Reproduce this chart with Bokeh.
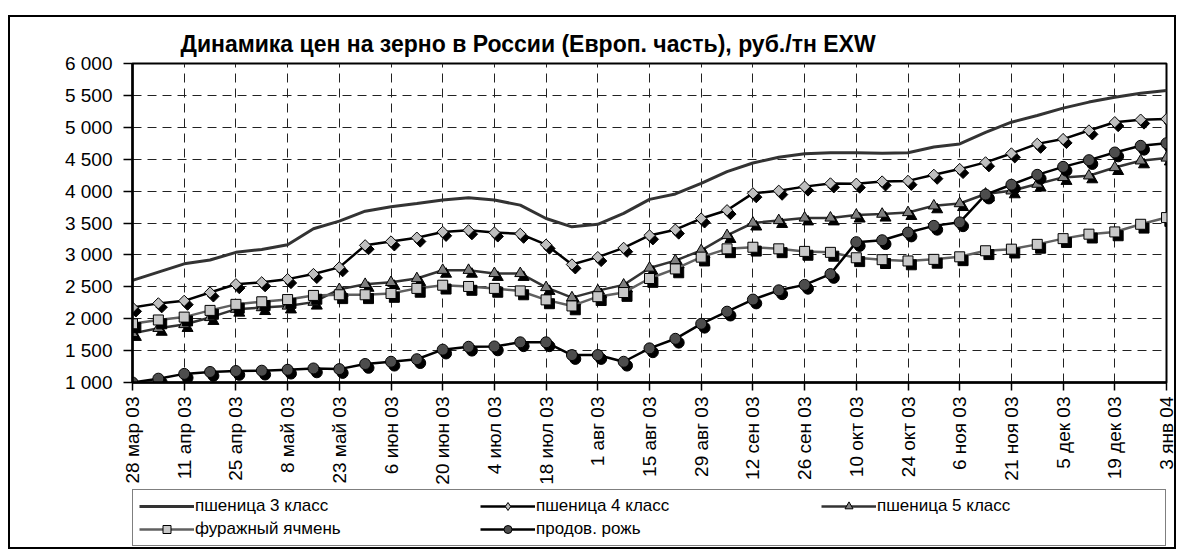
import math
from bokeh.plotting import figure
from bokeh.layouts import column
from bokeh.models import (Range1d, FixedTicker, ColumnDataSource, Legend, LegendItem)
from bokeh.transform import dodge
from bokeh.embed import file_html
from bokeh.resources import INLINE

title_text = "Динамика цен на зерно в России (Европ. часть), руб./тн EXW"

date_labels = ["28 мар 03", "11 апр 03", "25 апр 03", "8 май 03", "23 май 03",
               "6 июн 03", "20 июн 03", "4 июл 03", "18 июл 03", "1 авг 03",
               "15 авг 03", "29 авг 03", "12 сен 03", "26 сен 03", "10 окт 03",
               "24 окт 03", "6 ноя 03", "21 ноя 03", "5 дек 03", "19 дек 03",
               "3 янв 04"]

y_ticks = [1000, 1500, 2000, 2500, 3000, 3500, 4000, 4500, 5000, 5500, 6000]
y_tick_labels = ["1 000", "1 500", "2 000", "2 500", "3 000", "3 500",
                 "4 000", "4 500", "5 000", "5 500", "6 000"]

series_names = ["пшеница 3 класс", "пшеница 4 класс", "пшеница 5 класс",
                "фуражный ячмень", "продов. рожь"]

wheat3 = [2600, 2730, 2860, 2920, 3040, 3085, 3160, 3410, 3530, 3685,
          3755, 3805, 3860, 3895, 3860, 3780, 3570, 3440, 3480, 3650,
          3870, 3955, 4120, 4305, 4440, 4530, 4585, 4600, 4600, 4595,
          4600, 4690, 4740, 4920, 5080, 5185, 5300, 5395, 5470, 5535, 5575]

wheat4 = [2175, 2240, 2280, 2410, 2540, 2570, 2620, 2700, 2805, 3150,
          3210, 3270, 3360, 3385, 3350, 3330, 3160, 2850, 2965, 3110,
          3305, 3395, 3570, 3700, 3965, 4005, 4070, 4120, 4115, 4150,
          4160, 4255, 4345, 4450, 4590, 4740, 4815, 4950, 5080, 5120, 5130]

wheat5 = [1770, 1850, 1910, 2020, 2150, 2175, 2200, 2260, 2460, 2540,
          2570, 2630, 2760, 2760, 2710, 2710, 2490, 2330, 2440, 2530,
          2795, 2910, 3070, 3305, 3500, 3540, 3580, 3580, 3625, 3640,
          3665, 3770, 3805, 3955, 4005, 4110, 4215, 4240, 4370, 4475, 4520]

barley = [1920, 1980, 2025, 2130, 2225, 2265, 2300, 2365, 2375, 2375,
          2395, 2475, 2525, 2505, 2475, 2435, 2295, 2200, 2345, 2410,
          2630, 2780, 2965, 3095, 3120, 3095, 3055, 3040, 2955, 2925,
          2905, 2930, 2970, 3065, 3090, 3165, 3255, 3325, 3360, 3480, 3585]

rye = [1000, 1060, 1135, 1165, 1180, 1185, 1200, 1220, 1210, 1290,
       1325, 1365, 1515, 1560, 1565, 1630, 1630, 1430, 1430, 1325,
       1535, 1685, 1920, 2110, 2300, 2445, 2530, 2700, 3200, 3230,
       3350, 3455, 3510, 3945, 4100, 4255, 4380, 4485, 4605, 4710, 4750]

FONT = "Liberation Sans"

# series styles: (line colour, line width, marker, marker size, marker fill, angle, legend marker)
STYLES = [("#333333", 3.0, None, 0, None, 0.0, None),
          ("black", 2.5, "square", 8, "#bfbfbf", math.pi / 4, "diamond"),
          ("#333333", 2.5, "triangle", 11, "#808080", 0.0, "triangle"),
          ("#606060", 2.5, "square", 10, "#c8c8c8", 0.0, "square"),
          ("black", 2.5, "circle", 11, "#4d4d4d", 0.0, "circle")]

x = list(range(len(wheat3)))
cols = ["w3", "w4", "w5", "b", "r"]
src = ColumnDataSource(dict(x=x, w3=wheat3, w4=wheat4, w5=wheat5, b=barley, r=rye))

W = 1168
p = figure(width=W, height=472, output_backend="svg", toolbar_location=None,
           x_range=Range1d(0, len(x) - 1), y_range=Range1d(y_ticks[0], y_ticks[-1]),
           min_border_left=124, min_border_right=10, min_border_top=48,
           min_border_bottom=105)
p.background_fill_color = "white"
p.border_fill_alpha = 0
p.outline_line_color = "black"
p.outline_line_width = 2

# title
p.title.text = title_text
p.title.align = "left"
p.title.offset = 48
p.title.text_font = FONT
p.title.text_font_size = "23px"
p.title.text_font_style = "bold"
p.title.text_color = "black"
p.title.standoff = 13

# axes
p.xaxis.ticker = FixedTicker(ticks=list(range(0, len(x), 2)))
p.xaxis.major_label_overrides = {i * 2: lab for i, lab in enumerate(date_labels)}
p.xaxis.major_label_orientation = math.pi / 2
p.yaxis.ticker = FixedTicker(ticks=y_ticks)
p.yaxis.major_label_overrides = {t: l for t, l in zip(y_ticks, y_tick_labels)}
for ax in (p.xaxis, p.yaxis):
    ax.axis_line_color = "black"
    ax.axis_line_width = 2.5
    ax.major_tick_line_color = "black"
    ax.major_tick_line_width = 1.5
    ax.major_tick_in = 0
    ax.minor_tick_line_color = None
    ax.major_label_text_font = FONT
    ax.major_label_text_font_size = "19px"
    ax.major_label_text_color = "black"
p.yaxis.major_tick_out = 9
p.yaxis.major_label_standoff = 11
p.xaxis.major_tick_out = 8
p.xaxis.major_label_standoff = 6

p.grid.grid_line_color = "#222222"
p.grid.grid_line_dash = "9 6"
p.grid.grid_line_width = 1

SX, SY = 0.13, -60  # marker shadow offsets

for col, (lc, lw, mk, ms, mf, ang, lmk) in zip(cols, STYLES):
    p.line("x", col, source=src, line_color=lc, line_width=lw)
    if mk is not None:
        p.scatter(x=dodge("x", SX), y=dodge(col, SY), source=src, marker=mk,
                  angle=ang, size=ms, fill_color="black", line_color="black")
        p.scatter("x", col, source=src, marker=mk, angle=ang, size=ms,
                  fill_color=mf, line_color="black", line_width=1)

# legend strip below the chart; its renderers use the same data but fall
# outside this strip's ranges, so only their legend glyphs are visible
p2 = figure(width=W, height=62, output_backend="svg", toolbar_location=None,
            x_range=Range1d(0, 1), y_range=Range1d(0, 1),
            x_axis_location=None, y_axis_location=None,
            min_border_left=0, min_border_right=0, min_border_top=0,
            min_border_bottom=0)
p2.grid.visible = False
p2.outline_line_color = None
p2.background_fill_alpha = 0
p2.border_fill_alpha = 0

items = []
for name, col, (lc, lw, mk, ms, mf, ang, lmk) in zip(series_names, cols, STYLES):
    rs = [p2.line("x", col, source=src, line_color=lc, line_width=lw)]
    if lmk is not None:
        rs.append(p2.scatter("x", col, source=src, marker=lmk, size=ms,
                             fill_color=mf, line_color="black", line_width=1))
    items.append(LegendItem(label=name, renderers=rs))

legend = Legend(items=items, location=(0, 3), orientation="horizontal", ncols=3,
                glyph_width=55, glyph_height=20, label_height=20, label_standoff=1,
                label_width=282, spacing=3, padding=6, margin=0,
                border_line_color="black", border_line_width=1.5,
                background_fill_alpha=0,
                label_text_font=FONT, label_text_font_size="17px",
                label_text_color="black")
p2.add_layout(legend, "center")

lay = column(p, p2, spacing=0,
             styles={"margin-left": "8px", "margin-top": "15px",
                     "outline": "2px solid black", "outline-offset": "-2px"})

open("out.html", "w").write(file_html(lay, INLINE))
